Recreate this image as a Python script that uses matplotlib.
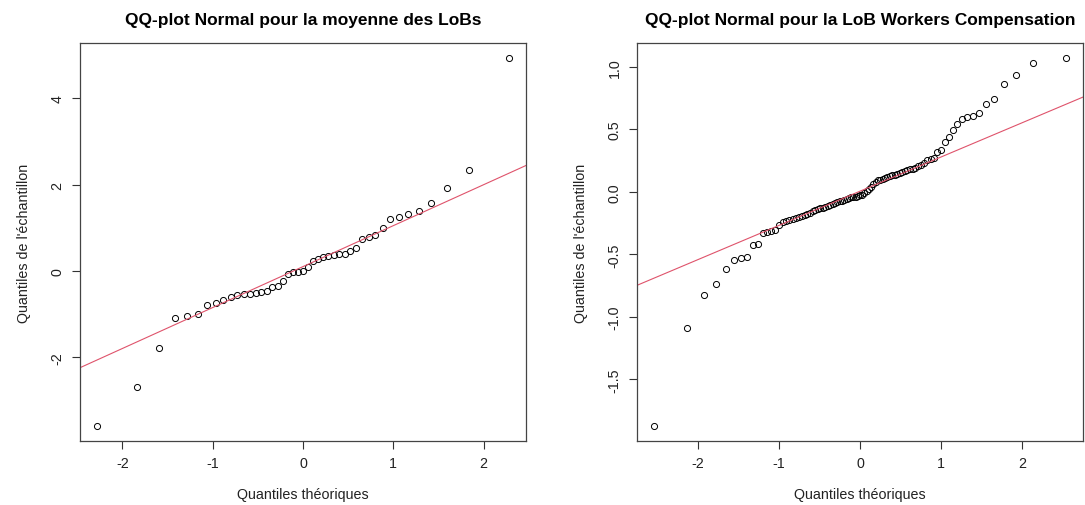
import matplotlib
matplotlib.use("Agg")
import matplotlib.pyplot as plt
import numpy as np
from statistics import NormalDist

# Quantiles empiriques (triés) - moyenne des LoBs
moyenne_lobs = [
    -3.60, -2.70, -1.79, -1.09, -1.05, -1.01, -0.80, -0.75, -0.68, -0.61,
    -0.56, -0.54, -0.53, -0.51, -0.50, -0.46, -0.37, -0.36, -0.24, -0.06,
    -0.03, -0.02, -0.01, 0.10, 0.22, 0.28, 0.33, 0.34, 0.38, 0.39,
    0.40, 0.45, 0.52, 0.74, 0.79, 0.83, 1.00, 1.20, 1.26, 1.33,
    1.38, 1.57, 1.91, 2.33, 4.94,
]

# Quantiles empiriques (triés) - LoB Workers Compensation
workers_comp = [
    -1.875, -1.088, -0.827, -0.736, -0.616, -0.542, -0.531, -0.523, -0.427, -0.414,
    -0.331, -0.320, -0.312, -0.307, -0.267, -0.243, -0.235, -0.225, -0.216, -0.208,
    -0.199, -0.192, -0.183, -0.175, -0.167, -0.155, -0.144, -0.136, -0.131, -0.126,
    -0.120, -0.113, -0.106, -0.097, -0.088, -0.081, -0.075, -0.069, -0.064, -0.056,
    -0.049, -0.043, -0.040, -0.037, -0.033, -0.027, -0.021, -0.010, 0.005, 0.021,
    0.043, 0.062, 0.078, 0.093, 0.099, 0.106, 0.112, 0.119, 0.125, 0.132,
    0.139, 0.146, 0.155, 0.162, 0.168, 0.174, 0.180, 0.187, 0.195, 0.204,
    0.215, 0.235, 0.255, 0.266, 0.272, 0.317, 0.338, 0.402, 0.437, 0.498,
    0.541, 0.581, 0.597, 0.605, 0.629, 0.706, 0.746, 0.861, 0.933, 1.029,
    1.074,
]

titres = ["QQ-plot Normal pour la moyenne des LoBs",
          "QQ-plot Normal pour la LoB Workers Compensation"]

plt.rcParams['font.family'] = ['Liberation Sans', 'DejaVu Sans']
plt.rcParams['axes.unicode_minus'] = False


def ppoints(n):
    a = 3 / 8 if n <= 10 else 0.5
    return [(i + 1 - a) / (n + 1 - 2 * a) for i in range(n)]


def qqplot(ax, y, titre):
    y = np.sort(np.asarray(y))
    nd = NormalDist()
    x = np.array([nd.inv_cdf(p) for p in ppoints(len(y))])
    ax.plot(x, y, 'o', mfc='none', mec='black', ms=4.4, mew=0.7)

    # droite passant par les quartiles (comme qqline)
    q1, q3 = np.quantile(y, [0.25, 0.75])
    z1, z3 = nd.inv_cdf(0.25), nd.inv_cdf(0.75)
    pente = (q3 - q1) / (z3 - z1)
    ordo = q1 - pente * z1
    ax.axline((0, ordo), slope=pente, color='#DF536B', lw=0.8)

    ax.margins(0.04)
    ax.set_title(titre, fontsize=12.5, fontweight='bold', pad=14)
    ax.set_xlabel('Quantiles théoriques', fontsize=10.3, labelpad=12, color='#222222')
    ax.set_ylabel("Quantiles de l'échantillon", fontsize=10.3, labelpad=14, color='#222222')
    ax.tick_params(direction='out', length=6, width=0.8, labelsize=10.3,
                   colors='#333333', labelcolor='#222222', pad=5)
    for sp in ax.spines.values():
        sp.set_color('#444444')
        sp.set_linewidth(0.9)


def rotate_yticks(ax):
    for lab in ax.get_yticklabels():
        lab.set_rotation(90)
        lab.set_va('center')


fig = plt.figure(figsize=(10.85, 5.06), dpi=100)
ax1 = fig.add_axes([80 / 1085, 64 / 506, 446 / 1085, 398 / 506])
ax2 = fig.add_axes([637 / 1085, 64 / 506, 446 / 1085, 398 / 506])

qqplot(ax1, moyenne_lobs, titres[0])
ax1.set_yticks([-2, 0, 2, 4])
ax1.set_xticks([-2, -1, 0, 1, 2])
rotate_yticks(ax1)

qqplot(ax2, workers_comp, titres[1])
ax2.set_yticks([-1.5, -1.0, -0.5, 0.0, 0.5, 1.0])
ax2.set_yticklabels(['-1.5', '-1.0', '-0.5', '0.0', '0.5', '1.0'])
ax2.set_xticks([-2, -1, 0, 1, 2])
rotate_yticks(ax2)

fig.savefig('out.png', dpi=100)
